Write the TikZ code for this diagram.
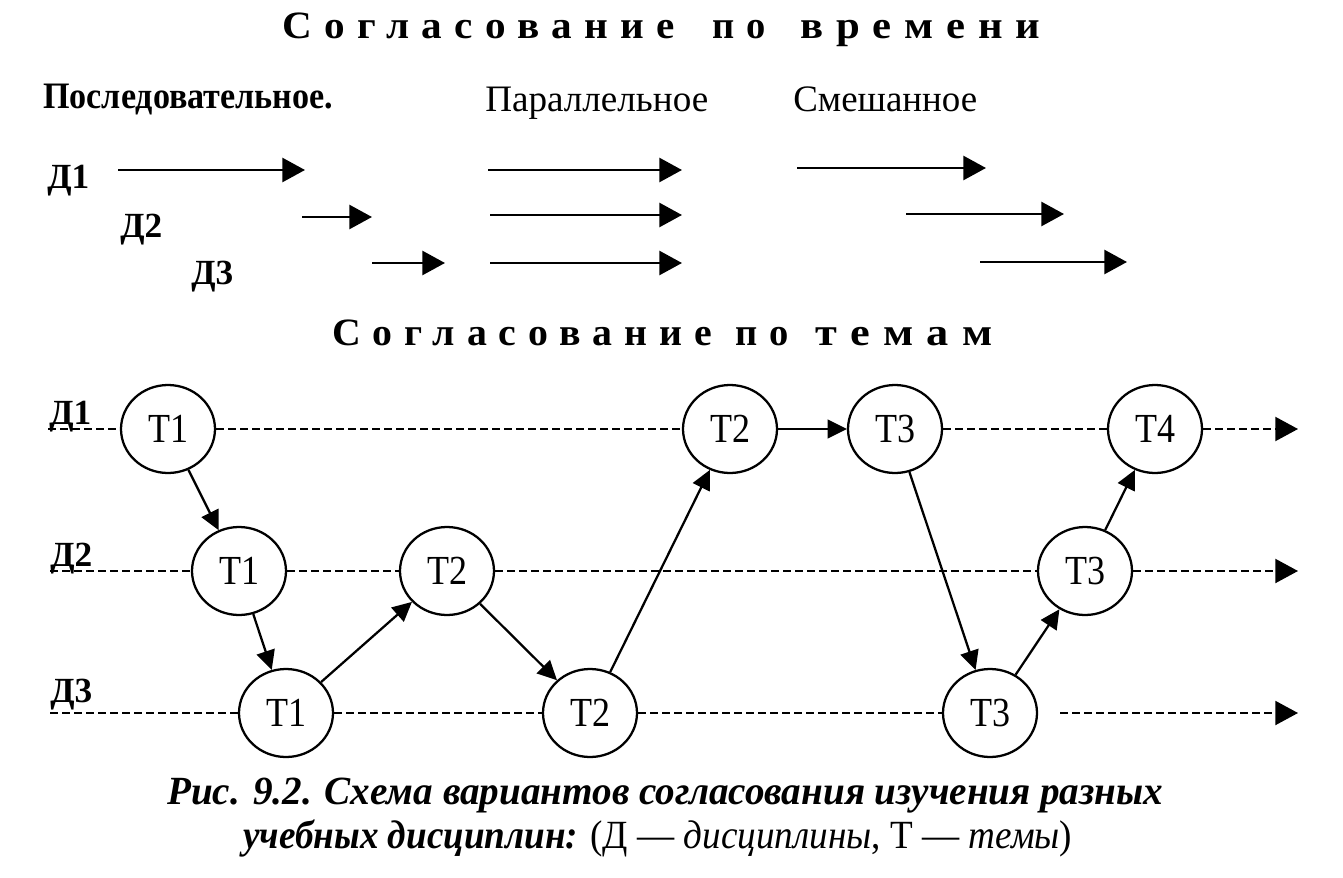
\documentclass[tikz,border=0pt]{standalone}
\usepackage{fontspec}
\setmainfont{Liberation Serif}
\usepackage{graphicx}
\usetikzlibrary{arrows.meta,shapes.geometric}
\newdimen\pxu \pxu=0.75pt
\newcommand{\fitw}[2]{\resizebox{#1\pxu}{\height}{#2}}
\newcommand{\ttlfont}{\fontsize{29}{30}\selectfont\bfseries\addfontfeatures{LetterSpace=30}}
\newcommand{\hdfont}{\fontsize{28}{29}\selectfont}
\newcommand{\dfont}{\fontsize{26.5}{27}\selectfont\bfseries}
\newcommand{\tfont}{\fontsize{31}{32}\selectfont}
\newcommand{\tlab}[1]{\fitw{40}{#1}}
\newcommand{\capfont}{\fontsize{30}{31}\selectfont}
\begin{document}
\begin{tikzpicture}[x=0.75pt,y=-0.75pt,
  topic/.style={ellipse,draw,line width=1.7pt,fill=white,minimum width=70.5pt,
    minimum height=66pt,inner sep=0pt,font=\tfont},
  bigtip/.style={-{Triangle[length=17pt,width=18pt]}},
  smalltip/.style={-{Triangle[length=14.5pt,width=14pt]}},
  timeline/.style={line width=2pt},
  track/.style={line width=1.5pt,dash pattern=on 6pt off 3pt},
  link/.style={line width=1.7pt},
  lbl/.style={inner sep=0pt,anchor=base west},
]
\useasboundingbox (0,0) rectangle (1343,878);
\fill[white] (0,0) rectangle (1343,878);

% titles
\node[lbl] (title1) at (282,38) {\ttlfont\fitw{393}{Согласование}\hspace{37\pxu}\fitw{53}{по}\hspace{35\pxu}\fitw{240}{времени}};
\node[lbl] (title2) at (332,345) {\ttlfont\fitw{380}{Согласование}\hspace{23\pxu}\fitw{53}{по}\hspace{27\pxu}\fitw{177}{темам}};

% headers
\node[lbl] (hseq) at (43,108) {\hdfont\fitw{290}{\bfseries Последовательное.}};
\node[lbl] (hpar) at (485,111) {\hdfont\fitw{223}{Параллельное}};
\node[lbl] (hmix) at (793,111) {\hdfont\fitw{184}{Смешанное}};

% top labels
\node[lbl,font=\dfont] (td1) at (47,188) {Д1};
\node[lbl,font=\dfont] (td2) at (120,237) {Д2};
\node[lbl,font=\dfont] (td3) at (191,284) {Д3};

% sequential
\coordinate (sa1) at (118,170); \coordinate (sb1) at (305,170);
\coordinate (sa2) at (302,217); \coordinate (sb2) at (372,217);
\coordinate (sa3) at (372,263); \coordinate (sb3) at (445,263);
% parallel
\coordinate (pa1) at (488,170); \coordinate (pb1) at (682,170);
\coordinate (pa2) at (490,215); \coordinate (pb2) at (682,215);
\coordinate (pa3) at (490,263); \coordinate (pb3) at (682,263);
% mixed
\coordinate (ma1) at (797,168); \coordinate (mb1) at (986,168);
\coordinate (ma2) at (906,214); \coordinate (mb2) at (1064,214);
\coordinate (ma3) at (980,262); \coordinate (mb3) at (1127,262);
\foreach \p in {s,p,m}{
  \foreach \i in {1,2,3}{
    \draw[timeline,bigtip] (\p a\i) -- (\p b\i);
  }
}

% bottom labels
\node[lbl,font=\dfont] (bd1) at (49,424) {Д1};
\node[lbl,font=\dfont] (bd2) at (50,566) {Д2};
\node[lbl,font=\dfont] (bd3) at (50,702) {Д3};

% track coordinates
\coordinate (r1s) at (48,429);  \coordinate (r1e) at (1298,429);
\coordinate (r2s) at (50,571);  \coordinate (r2e) at (1298,571);
\coordinate (r3s) at (50,713);  \coordinate (r3e) at (1298,713);
\coordinate (r3g) at (1060,713);

% topic nodes
\node[topic] (a1) at (168,429) {\tlab{Т1}};
\node[topic] (a2) at (730,429) {\tlab{Т2}};
\node[topic] (a3) at (895,429) {\tlab{Т3}};
\node[topic] (a4) at (1155,429) {\tlab{Т4}};
\node[topic] (b1) at (239,571) {\tlab{Т1}};
\node[topic] (b2) at (447,571) {\tlab{Т2}};
\node[topic] (b3) at (1085,571) {\tlab{Т3}};
\node[topic] (c1) at (286,713) {\tlab{Т1}};
\node[topic] (c2) at (590,713) {\tlab{Т2}};
\node[topic] (c3) at (990,713) {\tlab{Т3}};

% dashed tracks
\draw[track] (r1s) -- (a1); \draw[track] (a1) -- (a2);
\draw[track] (a3) -- (a4); \draw[track,bigtip] (a4) -- (r1e);
\draw[track] (r2s) -- (b1); \draw[track] (b1) -- (b2);
\draw[track] (b2) -- (b3); \draw[track,bigtip] (b3) -- (r2e);
\draw[track] (r3s) -- (c1); \draw[track] (c1) -- (c2);
\draw[track] (c2) -- (c3); \draw[track,bigtip] (r3g) -- (r3e);

% solid links
\draw[link,smalltip] (a1) -- (b1);
\draw[link,smalltip] (b1) -- (c1);
\draw[link,smalltip] (c1) -- (b2);
\draw[link,smalltip] (b2) -- (c2);
\draw[link,smalltip] (c2) -- (a2);
\draw[link,smalltip] (a2) -- (a3);
\draw[link,smalltip] (a3) -- (c3);
\draw[link,smalltip] (c3) -- (b3);
\draw[link,smalltip] (b3) -- (a4);

% caption
\node[lbl] (cap1) at (167,804) {\capfont\fitw{996}{\bfseries\itshape Рис. 9.2. Схема вариантов согласования изучения разных}};
\node[lbl] (cap2) at (243,848) {\capfont\fitw{829}{{\bfseries\itshape учебных дисциплин:} (Д~--- {\itshape дисциплины}, Т~--- {\itshape темы})}};
\end{tikzpicture}
\end{document}
